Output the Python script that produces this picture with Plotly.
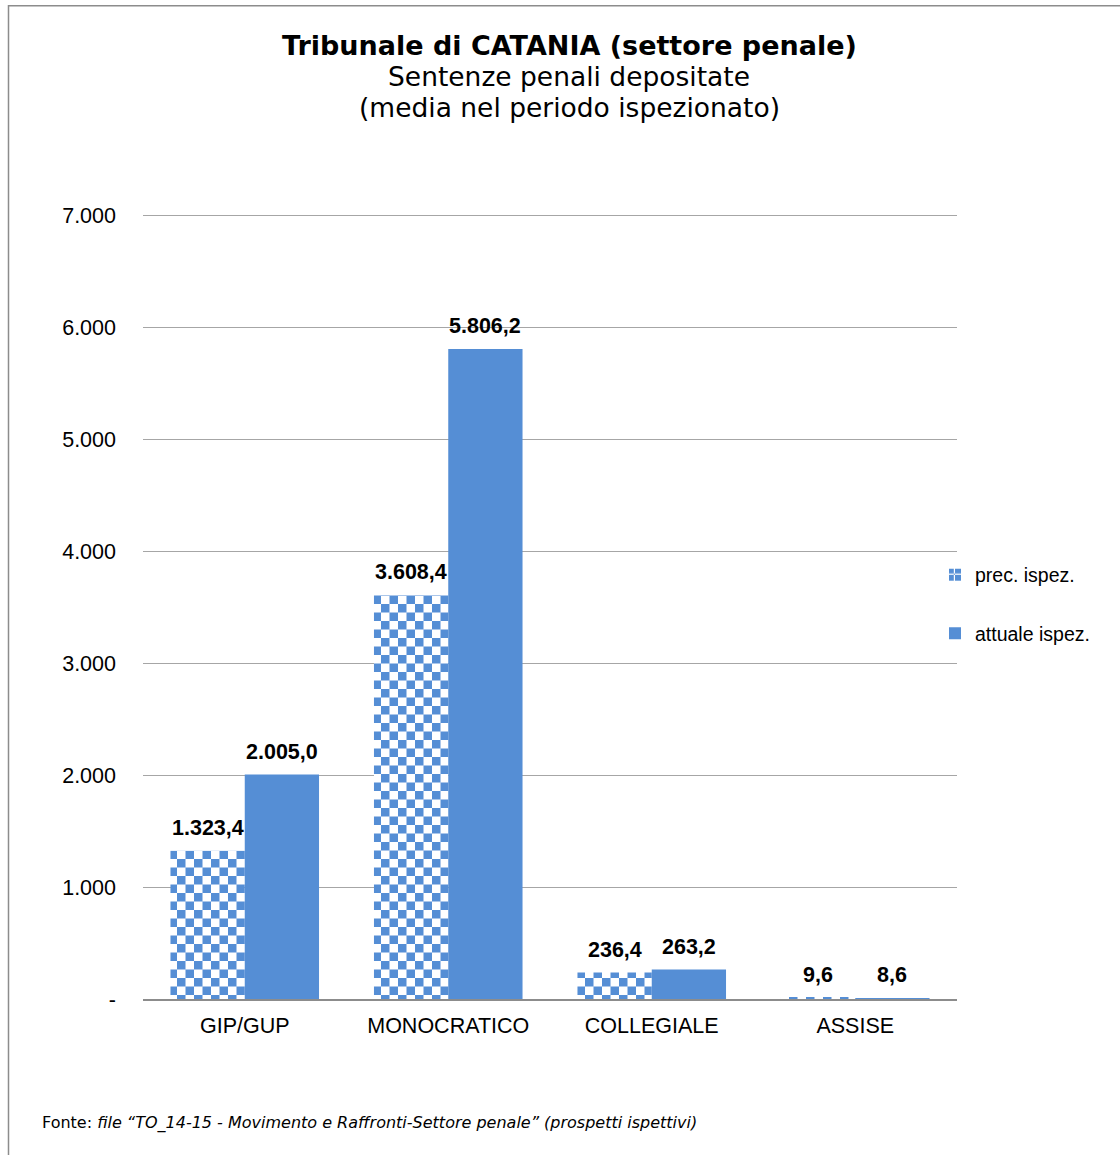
import plotly.graph_objects as go

categories = ["GIP/GUP", "MONOCRATICO", "COLLEGIALE", "ASSISE"]
prec_ispez = [1323.4, 3608.4, 236.4, 9.6]
attuale_ispez = [2005.0, 5806.2, 263.2, 8.6]
tick_vals = [0, 1000, 2000, 3000, 4000, 5000, 6000, 7000]
tick_text = ["-", "1.000", "2.000", "3.000", "4.000", "5.000", "6.000", "7.000"]

BLUE = "#558ED5"
W, H = 1120, 1155
Y_MAX = 7020
PX_PER_UNIT = 784 / 7000
L = 143
T = 215 - (Y_MAX - 7000) * PX_PER_UNIT
R = W - 957
B = H - 999
PW, PH = W - L - R, H - T - B
BARGAP = 0.27


def px_x(p):
    return (p - L) / PW


def px_y(p):
    return (H - B - p) / PH


def it_fmt(v):
    return f"{v:,.1f}".replace(",", "X").replace(".", ",").replace("X", ".")


LBL_FONT = dict(family="Liberation Sans, Arial", size=21.5, color="black", weight="bold")

checker = go.bar.marker.Pattern(path="M0,0H8.5V8.5H0Z M8.5,8.5H17V17H8.5Z",
                                fgcolor=BLUE, bgcolor="white", size=17, fillmode="replace")

fig = go.Figure()
fig.add_trace(go.Bar(
    name="prec. ispez.", x=categories, y=prec_ispez,
    marker=dict(color="white", line=dict(width=0), pattern=checker),
    legendgroup="a", hoverinfo="x+y",
))
fig.add_trace(go.Bar(
    name="attuale ispez.", x=categories, y=attuale_ispez,
    marker=dict(color=BLUE, line=dict(width=0)),
    legendgroup="b", hoverinfo="x+y",
))

# value labels above bars
cat_px = PW / len(categories)
half_bar = cat_px * (1 - BARGAP) / 4
for series, shift in ((prec_ispez, -half_bar), (attuale_ispez, half_bar)):
    for cat, v in zip(categories, series):
        fig.add_annotation(x=cat, y=v, text="<b>" + it_fmt(v) + "</b>", showarrow=False,
                           xanchor="center", yanchor="bottom", xshift=shift, yshift=9,
                           font=LBL_FONT)

fig.update_layout(
    width=W, height=H,
    margin=dict(l=L, r=R, t=T, b=B, autoexpand=False),
    paper_bgcolor="white", plot_bgcolor="white",
    separators=",.",
    barmode="group", bargap=BARGAP, bargroupgap=0,
    font=dict(family="Liberation Sans, Arial", size=21.5, color="black"),
    xaxis=dict(showgrid=False, showline=True, linecolor="#8c8c8c", linewidth=1.5,
               ticks="", tickfont=dict(size=21.5), ticklabelstandoff=6),
    yaxis=dict(range=[0, Y_MAX], tickvals=tick_vals, ticktext=tick_text,
               showgrid=True, gridcolor="#a6a6a6", gridwidth=1.2, zeroline=False,
               showline=False, ticks="", tickfont=dict(size=21.5), ticklabelstandoff=26),
    legend=dict(x=px_x(935), y=px_y(604), xanchor="left", yanchor="middle",
                font=dict(size=19.5), traceorder="grouped", tracegroupgap=30,
                bgcolor="rgba(0,0,0,0)"),
    showlegend=True,
)

TITLE_FONT = "DejaVu Sans, Verdana"
fig.add_annotation(text="<b>Tribunale di CATANIA (settore penale)</b>", xref="paper", yref="paper",
                   x=px_x(569), y=px_y(45), showarrow=False, xanchor="center", yanchor="middle",
                   font=dict(family=TITLE_FONT, size=27, color="black"))
fig.add_annotation(text="Sentenze penali depositate", xref="paper", yref="paper",
                   x=px_x(569), y=px_y(76), showarrow=False, xanchor="center", yanchor="middle",
                   font=dict(family=TITLE_FONT, size=26.5, color="black"))
fig.add_annotation(text="(media nel periodo ispezionato)", xref="paper", yref="paper",
                   x=px_x(569), y=px_y(107), showarrow=False, xanchor="center", yanchor="middle",
                   font=dict(family=TITLE_FONT, size=26.5, color="black"))
fig.add_annotation(text="Fonte: <i>file “TO_14-15 - Movimento e Raffronti-Settore penale” (prospetti ispettivi)</i>",
                   xref="paper", yref="paper", x=px_x(40), y=px_y(1123), showarrow=False,
                   xanchor="left", yanchor="middle",
                   font=dict(family="DejaVu Sans", size=16, color="black"))

fig.add_shape(type="rect", xref="paper", yref="paper",
              x0=px_x(8.5), y0=px_y(1175), x1=px_x(1135), y1=px_y(5.5),
              line=dict(color="#8c8c8c", width=1.5), fillcolor="rgba(0,0,0,0)", layer="below")

fig.write_html("out.html", config={"displayModeBar": False},
               post_script="document.body.style.margin='0px';")
